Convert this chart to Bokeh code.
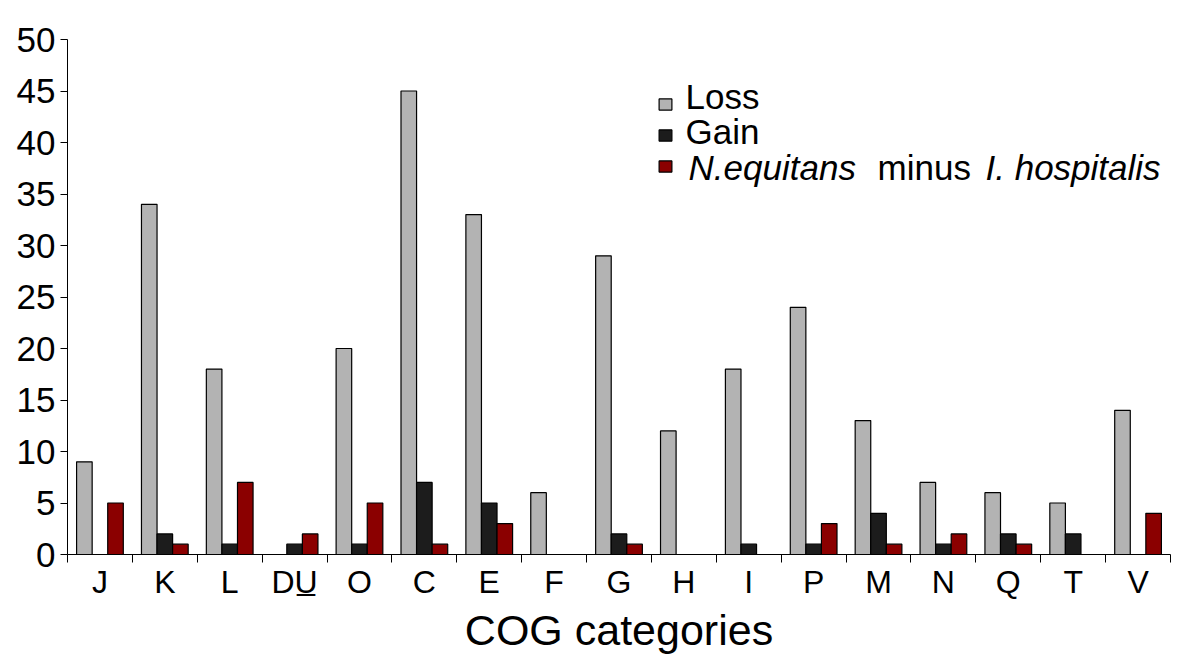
from bokeh.plotting import figure
from bokeh.models import Range1d, FixedTicker, Legend, LegendItem, Label, ColumnDataSource
from bokeh.transform import dodge
from bokeh.embed import file_html
from bokeh.resources import INLINE

# ---- data ----
categories = ["J", "K", "L", "DU\u0332", "O", "C", "E", "F", "G", "H", "I", "P", "M", "N", "Q", "T", "V"]
loss = [9, 34, 18, 0, 20, 45, 33, 6, 29, 12, 18, 24, 13, 7, 6, 5, 14]
gain = [0, 2, 1, 1, 1, 7, 5, 0, 2, 0, 1, 1, 4, 1, 2, 2, 0]
neq_minus_ihosp = [5, 1, 7, 2, 5, 1, 3, 0, 1, 0, 0, 3, 1, 2, 1, 0, 4]
y_ticks = [0, 5, 10, 15, 20, 25, 30, 35, 40, 45, 50]
x_label = "COG categories"

FONT = "Liberation Sans"
positions = list(range(len(categories)))
src = ColumnDataSource(dict(x=positions, loss=loss, gain=gain, diff=neq_minus_ihosp))

p = figure(width=1200, height=669, output_backend="svg", toolbar_location=None,
           x_range=Range1d(-0.5, len(categories) - 0.5), y_range=Range1d(0, 50),
           min_border_left=67, min_border_right=30, min_border_top=39, min_border_bottom=115)
p.outline_line_color = None
p.xgrid.visible = False
p.ygrid.visible = False
p.background_fill_color = "white"

W = 0.24
r_loss = p.vbar(x=dodge("x", -W, range=p.x_range), top="loss", width=W, source=src,
                fill_color="#b3b3b3", line_color="black", line_width=1.2)
r_gain = p.vbar(x="x", top="gain", width=W, source=src,
                fill_color="#1c1c1c", line_color="black", line_width=1.2)
r_diff = p.vbar(x=dodge("x", W, range=p.x_range), top="diff", width=W, source=src,
                fill_color="#8b0000", line_color="black", line_width=1.2)

# y axis
ya = p.yaxis[0]
ya.ticker = FixedTicker(ticks=y_ticks)
ya.major_label_text_font = FONT
ya.major_label_text_font_size = "35px"
ya.major_label_text_color = "black"
ya.major_tick_out = 7
ya.major_tick_in = 0
ya.minor_tick_out = 0
ya.minor_tick_in = 0
ya.major_label_standoff = 5
ya.axis_line_color = "black"
ya.major_tick_line_color = "black"

# x axis: labels at category centres, ticks at boundaries
xa = p.xaxis[0]
xa.ticker = FixedTicker(ticks=positions, minor_ticks=[i - 0.5 for i in range(len(categories) + 1)])
xa.major_label_overrides = {i: c for i, c in enumerate(categories)}
xa.major_label_text_font = FONT
xa.major_label_text_font_size = "32px"
xa.major_label_text_color = "black"
xa.major_tick_out = 0
xa.major_tick_in = 0
xa.minor_tick_out = 8
xa.minor_tick_in = 0
xa.minor_tick_line_color = "black"
xa.major_label_standoff = 1
xa.axis_line_color = "black"
xa.axis_label = x_label
xa.axis_label_text_font = FONT
xa.axis_label_text_font_size = "43px"
xa.axis_label_text_font_style = "normal"
xa.axis_label_text_color = "black"
xa.axis_label_standoff = 3

# legend swatches (texts drawn as labels for mixed styling)
legend = Legend(items=[LegendItem(label=" ", renderers=[r_loss]),
                       LegendItem(label=" ", renderers=[r_gain]),
                       LegendItem(label=" ", renderers=[r_diff])],
                location=(590, 381), orientation="vertical",
                glyph_width=16, glyph_height=14, label_height=14, label_width=1,
                label_text_font_size="1px", spacing=17, padding=0, margin=0,
                border_line_color=None, background_fill_alpha=0)
p.add_layout(legend)

def lab(x, y, t, style="normal"):
    p.add_layout(Label(x=x, y=y, text=t, text_font=FONT, text_font_size="35px",
                       text_font_style=style, text_color="black",
                       text_align="left", text_baseline="alphabetic"))

lab(9.025, 44.45, "Loss")
lab(9.025, 41.1, "Gain")
lab(9.072, 37.55, "N.equitans", "italic")
lab(11.985, 37.55, "minus")
lab(13.649, 37.55, "I. hospitalis", "italic")

open("out.html", "w").write(file_html(p, INLINE))
